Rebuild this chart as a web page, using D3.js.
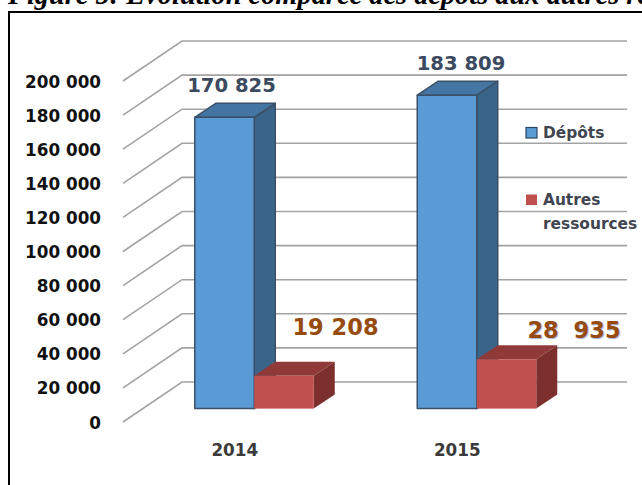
<!DOCTYPE html>
<html>
<head>
<meta charset="utf-8">
<script src="https://cdn.jsdelivr.net/npm/d3@7"></script>
<style>
  html, body { margin: 0; padding: 0; background: #fff; overflow: hidden; }
  svg { display: block; }
  text { font-family: "DejaVu Sans", sans-serif; font-weight: 700; }
  .title { font-family: "Liberation Serif", serif; font-style: italic; font-size: 28.4px; fill: #000; }
  .tick { font-size: 16.8px; fill: #111; text-anchor: end; }
  .year { font-size: 16.8px; fill: #3a3a3a; text-anchor: middle; }
  .legend { font-size: 15.4px; fill: #404550; }
  .val { font-size: 19.6px; text-anchor: middle; }
</style>
</head>
<body>
<svg id="chart" width="642" height="485"></svg>
<script>
const years = ["2014", "2015"]
const depots = [170825, 183809]
const autres = [19208, 28935]
const yTicks = [0, 20000, 40000, 60000, 80000, 100000, 120000, 140000, 160000, 180000, 200000]
const legendLabels = [["Dépôts"], ["Autres", "ressources"]]
const titleText = "Figure 5: Evolution comparée des dépôts aux autres ressources"

const svg = d3.select("#chart")

// frame and title, title is cut by the top of the page like the scan
svg.append("text").attr("class", "title").attr("x", 8).attr("y", 3.5).text(titleText)
svg.append("path").attr("d", "M9,485 V12 H642").attr("fill", "none").attr("stroke", "#000").attr("stroke-width", 2)

// 3d box: wall is pushed back by depth, bars sit in the middle of the floor
const wallDx = 59, wallDy = -40
const barShiftX = 20, barShiftY = -13.4
const barDx = 21, barDy = -14

const x = d3.scaleBand().domain(years).range([123, 568])
const y = d3.scaleLinear().domain([0, 200000]).range([422, 81])
const barW = 59.5

const fmt = (v) => d3.format(",")(v).replace(/,/g, " ")

const grid = svg.append("g").attr("fill", "none").attr("stroke", "#a3a3a3")
yTicks.forEach((t) => {
  grid.append("path")
    .attr("stroke-width", 1.6)
    .attr("d", `M${x.range()[0]},${y(t)} L${x.range()[0] + wallDx},${y(t) + wallDy} H${x.range()[1] + wallDx}`)
  svg.append("text").attr("class", "tick").attr("x", 101).attr("y", y(t) + 6.5).text(fmt(t))
})

function bar(left, value, cols) {
  const x0 = left + barShiftX, x1 = x0 + barW
  const y0 = y(0) + barShiftY, yT = y(value) + barShiftY
  const g = svg.append("g").attr("stroke", cols.line).attr("stroke-width", cols.line === "none" ? 0 : 1.5).attr("stroke-linejoin", "round")
  g.append("path").attr("fill", cols.side)
    .attr("d", `M${x1},${yT} L${x1 + barDx},${yT + barDy} V${y0 + barDy} L${x1},${y0} Z`)
  g.append("path").attr("fill", cols.top)
    .attr("d", `M${x0},${yT} L${x0 + barDx},${yT + barDy} H${x1 + barDx} L${x1},${yT} Z`)
  g.append("rect").attr("fill", cols.front)
    .attr("x", x0).attr("y", yT).attr("width", barW).attr("height", y0 - yT)
}

const blue = { front: "#5b9bd5", top: "#4575a3", side: "#3a6488", line: "#3b5068" }
const red = { front: "#c0504d", top: "#8f3a38", side: "#7c2f2d", line: "none" }

// blue first, the red box hides the foot of the blue side face
years.forEach((yr, i) => {
  const center = x(yr) + x.bandwidth() / 2
  bar(center - barW, depots[i], blue)
  bar(center, autres[i], red)
  svg.append("text").attr("class", "year").attr("x", center + 0.5).attr("y", 455.5).text(yr)
})

// value labels
const blueLabels = [[231.5, 91.5], [461, 69.5]]
const redLabels = [[335.5, 335], [574, 338]]
years.forEach((yr, i) => {
  svg.append("text").attr("class", "val").attr("x", blueLabels[i][0]).attr("y", blueLabels[i][1])
    .attr("fill", "#3c4a60").text(fmt(depots[i]))
  const t = svg.append("text").attr("class", "val").attr("x", redLabels[i][0]).attr("y", redLabels[i][1])
    .attr("fill", "#974b0f").style("font-size", "22.5px").text(fmt(autres[i]))
  if (i === 1) t.style("text-shadow", "1px 1px 1px #9fb4dc").style("word-spacing", "7px")
})

// legend
const legendY = [132.5, 199.5]
const legendCols = [blue, red]
legendLabels.forEach((lines, i) => {
  svg.append("rect").attr("x", 526).attr("y", legendY[i] - 5).attr("width", 11).attr("height", 10.5)
    .attr("fill", legendCols[i].front)
    .attr("stroke", i === 0 ? "#2f4560" : "none").attr("stroke-width", 1.2)
  lines.forEach((l, j) => {
    svg.append("text").attr("class", "legend").attr("x", 543).attr("y", legendY[i] + 5 + j * 24).text(l)
  })
})
</script>
</body>
</html>
